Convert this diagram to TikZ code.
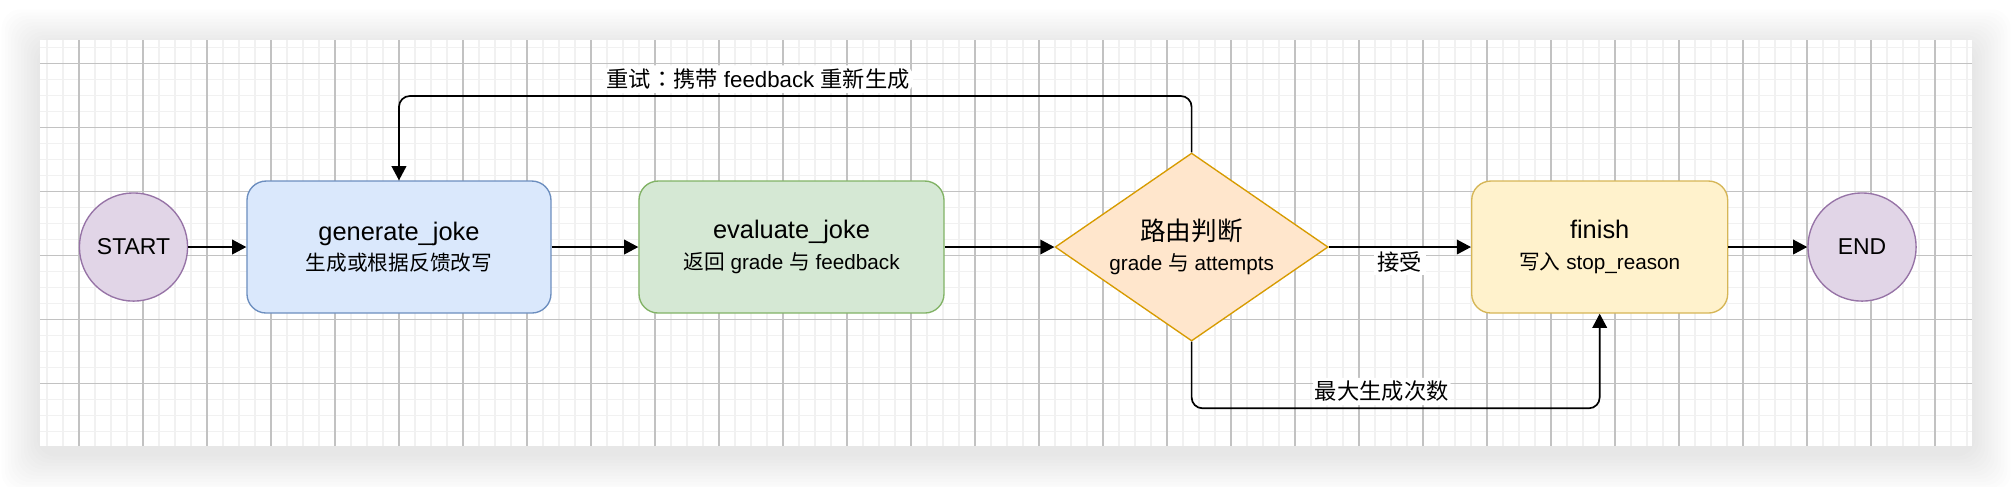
\documentclass[tikz,border=0pt]{standalone}
\usepackage{fontspec}
\setmainfont{Liberation Sans}
\newfontfamily\cjk{Noto Sans CJK SC}
\newfontfamily\cjkjp{Noto Sans CJK JP}
\usetikzlibrary{shapes.geometric, arrows.meta, positioning, calc}
\definecolor{termfill}{RGB}{225, 213, 231}
\definecolor{termline}{RGB}{150, 115, 166}
\definecolor{genfill}{RGB}{218, 232, 252}
\definecolor{genline}{RGB}{108, 142, 191}
\definecolor{evalfill}{RGB}{213, 232, 212}
\definecolor{evalline}{RGB}{130, 179, 102}
\definecolor{routefill}{RGB}{255, 230, 204}
\definecolor{routeline}{RGB}{215, 155, 0}
\definecolor{finfill}{RGB}{255, 242, 204}
\definecolor{finline}{RGB}{214, 182, 86}
\definecolor{majorgrid}{RGB}{194, 194, 194}
\definecolor{minorgrid}{RGB}{241, 241, 241}

\begin{document}
\begin{tikzpicture}[
  terminal/.style={circle, draw=termline, fill=termfill, line width=0.6pt, minimum size=1.69cm, inner sep=0pt, font=\fontsize{10.2}{12}\selectfont},
  stepbox/.style={rectangle, rounded corners=0.3cm, line width=0.6pt, minimum width=4.75cm, minimum height=2.0625cm, inner sep=0pt, align=center, font=\fontsize{9.2}{13.6}\selectfont},
  decision/.style={diamond, draw=routeline, fill=routefill, line width=0.6pt, minimum width=4.266cm, minimum height=2.9375cm, shape aspect=1.45, inner sep=0pt, align=center, font=\fontsize{9.2}{13.6}\selectfont},
  flow/.style={-{Triangle[length=6.3pt, width=6.5pt]}, line width=0.75pt},
  edgelabel/.style={fill=white, inner sep=1.5pt, font=\fontsize{9.9}{12}\selectfont}
]
  \useasboundingbox (0, 0) rectangle (31.4375, 7.59375);
  \fill[white] (0, 0) rectangle (31.4375, 7.59375);

  % soft shadow under the canvas
  \foreach \i in {1,...,12}
    \fill[black, opacity=0.008, rounded corners=0.3cm]
      (0.625-\i*0.05, 0.51-\i*0.05) rectangle (30.817+\i*0.05, 6.849+\i*0.05);
  \fill[white] (0.625, 0.63) rectangle (30.817, 6.969);

  % grid
  \begin{scope}[shift={(1.234, 0.598)}]
    \draw[minorgrid, line width=0.5pt, step=0.25] (-0.609, 0.032) grid (29.583, 6.371);
    \draw[majorgrid, line width=0.6pt, step=1] (-0.609, 0.032) grid (29.583, 6.371);
  \end{scope}

  % nodes
  \node[terminal] (start) at (2.086, 3.734) {START};
  \node[stepbox, draw=genline, fill=genfill] (gen) at (6.234, 3.734)
    {{\fontsize{11.3}{13.6}\selectfont generate\_joke}\\{\cjk 生成或根据反馈改写}};
  \node[stepbox, draw=evalline, fill=evalfill, minimum width=4.766cm] (eval) at (12.367, 3.734)
    {{\fontsize{11.3}{13.6}\selectfont evaluate\_joke}\\{\cjk 返回} grade {\cjk 与} feedback};
  \node[decision] (route) at (18.619, 3.734)
    {{\cjk\fontsize{11.4}{13.6}\selectfont 路由判断}\\grade {\cjk 与} attempts};
  \node[stepbox, draw=finline, fill=finfill, minimum width=4cm] (finish) at (24.995, 3.734)
    {{\fontsize{11.3}{13.6}\selectfont finish}\\{\cjk 写入} stop\_reason};
  \node[terminal] (stop) at (29.094, 3.734) {END};

  \coordinate (looptop) at (6.234, 6.094);
  \coordinate (loopbot) at (24.995, 1.214);

  % connectors
  \draw[flow] (start) -- (gen);
  \draw[flow] (gen) -- (eval);
  \draw[flow] (eval) -- (route);
  \draw[flow] (route) -- node[edgelabel, below=0pt] {{\cjk 接受}} (finish);
  \draw[flow] (finish) -- (stop);
  \draw[flow, rounded corners=0.17cm] (route.north) -- (route.north |- looptop)
    -- node[edgelabel, pos=0.547, above=1pt] {{\cjk 重试}{\cjkjp ：}{\cjk 携带} feedback {\cjk 重新生成}} (looptop)
    -- (gen.north);
  \draw[flow, rounded corners=0.17cm] (route.south) -- (route.south |- loopbot)
    -- node[edgelabel, pos=0.466, above=1pt] {{\cjk 最大生成次数}} (loopbot)
    -- (finish.south);
\end{tikzpicture}
\end{document}
